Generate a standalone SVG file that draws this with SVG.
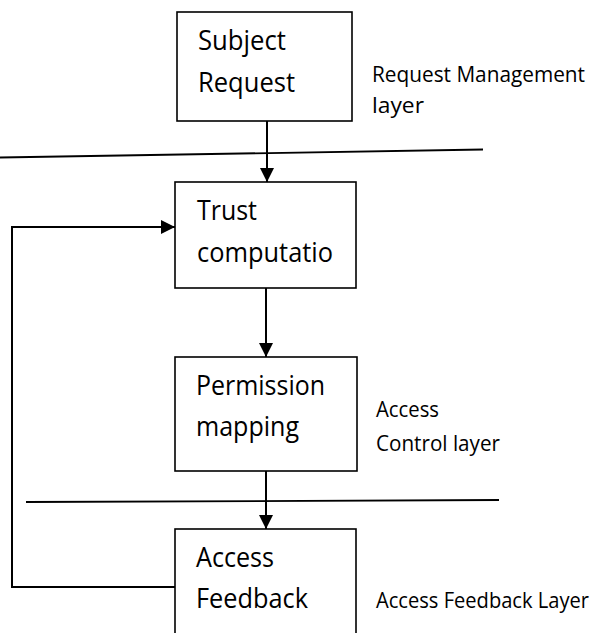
<svg xmlns="http://www.w3.org/2000/svg" width="598" height="633" viewBox="0 0 598 633">
  <style>
    .box { fill: #ffffff; stroke: #000000; stroke-width: 1.6; }
    .conn { fill: none; stroke: #000000; stroke-width: 2; }
    .sep { fill: none; stroke: #000000; stroke-width: 1.8; }
    .t { font-family: "Open Sans", "Noto Sans", "Liberation Sans", sans-serif; font-size: 27px; fill: #000000; }
    .lbl { font-family: "Open Sans", "Noto Sans", "Liberation Sans", sans-serif; font-size: 22px; fill: #000000; }
  </style>
  <defs>
    <marker id="arrow" viewBox="0 0 14 14" refX="14" refY="7" markerWidth="14" markerHeight="14" markerUnits="userSpaceOnUse" orient="auto">
      <path d="M0,0 L14,7 L0,14 Z" fill="#000000"/>
    </marker>
  </defs>

  <g id="separators">
    <line class="sep" x1="0" y1="157.5" x2="483" y2="149.5"/>
    <line class="sep" x1="26" y1="502" x2="499" y2="500"/>
  </g>

  <g id="node-subject-request">
    <rect class="box" x="177" y="12" width="175" height="109"/>
    <text class="t" x="198" y="50" textLength="88" lengthAdjust="spacingAndGlyphs">Subject</text>
    <text class="t" x="198" y="92" textLength="97" lengthAdjust="spacingAndGlyphs">Request</text>
  </g>

  <g id="node-trust-computation">
    <rect class="box" x="175" y="182" width="181" height="106"/>
    <text class="t" x="197" y="220" textLength="60" lengthAdjust="spacingAndGlyphs">Trust</text>
    <text class="t" x="197" y="262" textLength="136" lengthAdjust="spacingAndGlyphs">computatio</text>
  </g>

  <g id="node-permission-mapping">
    <rect class="box" x="175" y="357" width="182" height="114"/>
    <text class="t" x="196" y="395" textLength="129" lengthAdjust="spacingAndGlyphs">Permission</text>
    <text class="t" x="196" y="436" textLength="103" lengthAdjust="spacingAndGlyphs">mapping</text>
  </g>

  <g id="node-access-feedback">
    <rect class="box" x="175" y="529" width="181" height="120"/>
    <text class="t" x="196" y="567" textLength="78" lengthAdjust="spacingAndGlyphs">Access</text>
    <text class="t" x="196" y="608" textLength="112" lengthAdjust="spacingAndGlyphs">Feedback</text>
  </g>

  <g id="layer-labels">
    <text class="lbl" x="372" y="82" textLength="213" lengthAdjust="spacingAndGlyphs">Request Management</text>
    <text class="lbl" x="372" y="113" textLength="52" lengthAdjust="spacingAndGlyphs">layer</text>
    <text class="lbl" x="376" y="417" textLength="63" lengthAdjust="spacingAndGlyphs">Access</text>
    <text class="lbl" x="376" y="451" textLength="124" lengthAdjust="spacingAndGlyphs">Control layer</text>
    <text class="lbl" x="376" y="608" textLength="213" lengthAdjust="spacingAndGlyphs">Access Feedback Layer</text>
  </g>

  <g id="connectors">
    <line class="conn" x1="267" y1="121" x2="267" y2="182" marker-end="url(#arrow)"/>
    <line class="conn" x1="266" y1="288" x2="266" y2="357" marker-end="url(#arrow)"/>
    <line class="conn" x1="266" y1="471" x2="266" y2="529" marker-end="url(#arrow)"/>
    <polyline class="conn" points="175,587 12,587 12,227 175,227" marker-end="url(#arrow)"/>
  </g>
</svg>
